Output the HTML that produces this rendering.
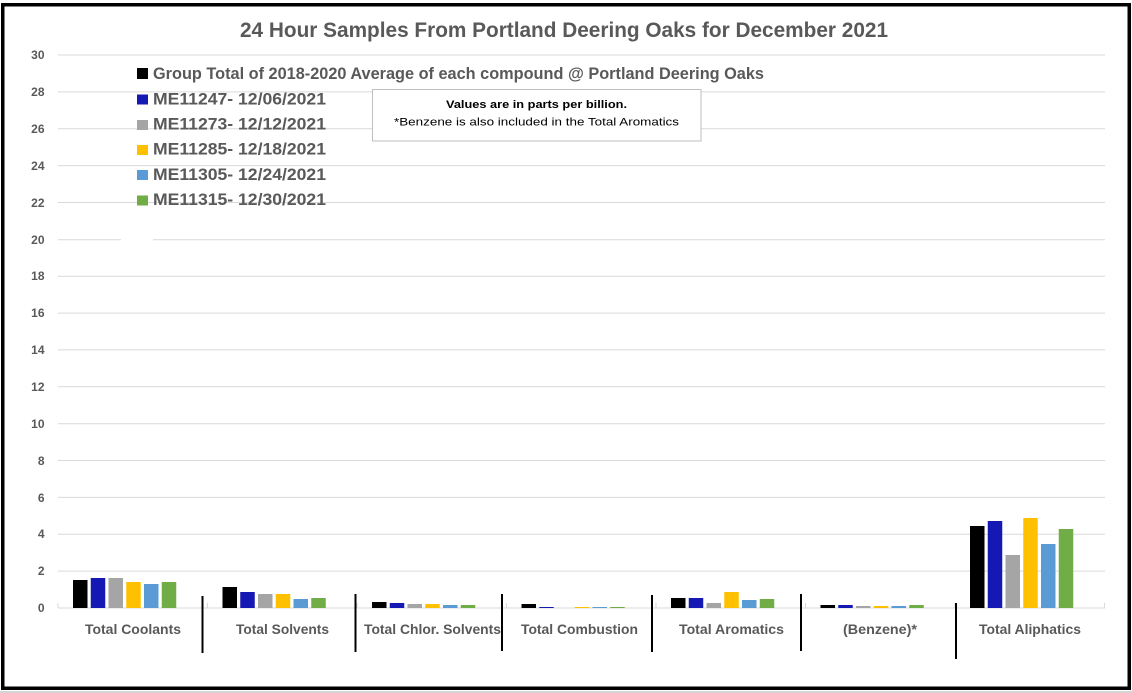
<!DOCTYPE html>
<html>
<head>
<meta charset="utf-8">
<style>
html,body{margin:0;padding:0;background:#fff;}
svg{display:block;}
text{font-family:"Liberation Sans",Arial,sans-serif;}
</style>
</head>
<body>
<svg width="1132" height="693" viewBox="0 0 1132 693" xmlns="http://www.w3.org/2000/svg">
<rect x="0" y="0" width="1132" height="693" fill="#fff"/>
<rect x="0" y="691" width="1132" height="2" fill="#d4d4d4"/>
<!-- gridlines -->
<g stroke="#d9d9d9" stroke-width="1">
<line x1="58" y1="55" x2="1105" y2="55"/>
<line x1="58" y1="91.9" x2="1105" y2="91.9"/>
<line x1="58" y1="128.7" x2="1105" y2="128.7"/>
<line x1="58" y1="165.6" x2="1105" y2="165.6"/>
<line x1="58" y1="202.5" x2="1105" y2="202.5"/>
<line x1="58" y1="239.8" x2="121" y2="239.8"/>
<line x1="153" y1="239.8" x2="1105" y2="239.8"/>
<line x1="58" y1="276.2" x2="1105" y2="276.2"/>
<line x1="58" y1="313.1" x2="1105" y2="313.1"/>
<line x1="58" y1="349.9" x2="1105" y2="349.9"/>
<line x1="58" y1="386.8" x2="1105" y2="386.8"/>
<line x1="58" y1="423.7" x2="1105" y2="423.7"/>
<line x1="58" y1="460.5" x2="1105" y2="460.5"/>
<line x1="58" y1="497.4" x2="1105" y2="497.4"/>
<line x1="58" y1="534.3" x2="1105" y2="534.3"/>
<line x1="58" y1="571.1" x2="1105" y2="571.1"/>
<line x1="58" y1="608" x2="1105" y2="608"/>
<line x1="58" y1="603" x2="58" y2="608"/>
<line x1="207.5" y1="603" x2="207.5" y2="608"/>
<line x1="357" y1="603" x2="357" y2="608"/>
<line x1="506.5" y1="603" x2="506.5" y2="608"/>
<line x1="656" y1="603" x2="656" y2="608"/>
<line x1="805.5" y1="603" x2="805.5" y2="608"/>
<line x1="955" y1="603" x2="955" y2="608"/>
<line x1="1104.5" y1="603" x2="1104.5" y2="608"/>
</g>
<!-- y labels -->
<g font-size="12" font-weight="bold" fill="#595959" text-anchor="end">
<text x="44.5" y="59">30</text>
<text x="44.5" y="96">28</text>
<text x="44.5" y="133">26</text>
<text x="44.5" y="170">24</text>
<text x="44.5" y="207">22</text>
<text x="44.5" y="244">20</text>
<text x="44.5" y="280">18</text>
<text x="44.5" y="317">16</text>
<text x="44.5" y="354">14</text>
<text x="44.5" y="391">12</text>
<text x="44.5" y="428">10</text>
<text x="44.5" y="465">8</text>
<text x="44.5" y="502">6</text>
<text x="44.5" y="538">4</text>
<text x="44.5" y="575">2</text>
<text x="44.5" y="612">0</text>
</g>
<!-- bars -->
<g>
<!-- Coolants start 73 -->
<rect x="73" y="580" width="14.5" height="28" fill="#000"/>
<rect x="90.75" y="578" width="14.5" height="30" fill="#1518b3"/>
<rect x="108.5" y="578" width="14.5" height="30" fill="#a5a5a5"/>
<rect x="126.25" y="582" width="14.5" height="26" fill="#ffc000"/>
<rect x="144" y="584" width="14.5" height="24" fill="#5b9bd5"/>
<rect x="161.75" y="582" width="14.5" height="26" fill="#70ad47"/>
<!-- Solvents start 222.5 -->
<rect x="222.5" y="587" width="14.5" height="21" fill="#000"/>
<rect x="240.25" y="592" width="14.5" height="16" fill="#1518b3"/>
<rect x="258" y="594" width="14.5" height="14" fill="#a5a5a5"/>
<rect x="275.75" y="594" width="14.5" height="14" fill="#ffc000"/>
<rect x="293.5" y="599" width="14.5" height="9" fill="#5b9bd5"/>
<rect x="311.25" y="598" width="14.5" height="10" fill="#70ad47"/>
<!-- Chlor start 372 -->
<rect x="372" y="602" width="14.5" height="6" fill="#000"/>
<rect x="389.75" y="603" width="14.5" height="5" fill="#1518b3"/>
<rect x="407.5" y="604" width="14.5" height="4" fill="#a5a5a5"/>
<rect x="425.25" y="604" width="14.5" height="4" fill="#ffc000"/>
<rect x="443" y="605" width="14.5" height="3" fill="#5b9bd5"/>
<rect x="460.75" y="605" width="14.5" height="3" fill="#70ad47"/>
<!-- Combustion start 521.5 -->
<rect x="521.5" y="604" width="14.5" height="4" fill="#000"/>
<rect x="539.25" y="607" width="14.5" height="1" fill="#1518b3"/>
<rect x="574.75" y="607" width="14.5" height="1" fill="#ffc000"/>
<rect x="592.5" y="607" width="14.5" height="1" fill="#5b9bd5"/>
<rect x="610.25" y="607" width="14.5" height="1" fill="#70ad47"/>
<!-- Aromatics start 671 -->
<rect x="671" y="598" width="14.5" height="10" fill="#000"/>
<rect x="688.75" y="598" width="14.5" height="10" fill="#1518b3"/>
<rect x="706.5" y="603" width="14.5" height="5" fill="#a5a5a5"/>
<rect x="724.25" y="592" width="14.5" height="16" fill="#ffc000"/>
<rect x="742" y="600" width="14.5" height="8" fill="#5b9bd5"/>
<rect x="759.75" y="599" width="14.5" height="9" fill="#70ad47"/>
<!-- Benzene start 820.5 -->
<rect x="820.5" y="605" width="14.5" height="3" fill="#000"/>
<rect x="838.25" y="605" width="14.5" height="3" fill="#1518b3"/>
<rect x="856" y="606" width="14.5" height="2" fill="#a5a5a5"/>
<rect x="873.75" y="606" width="14.5" height="2" fill="#ffc000"/>
<rect x="891.5" y="606" width="14.5" height="2" fill="#5b9bd5"/>
<rect x="909.25" y="605" width="14.5" height="3" fill="#70ad47"/>
<!-- Aliphatics start 970 -->
<rect x="970" y="526" width="14.5" height="82" fill="#000"/>
<rect x="987.75" y="521" width="14.5" height="87" fill="#1518b3"/>
<rect x="1005.5" y="555" width="14.5" height="53" fill="#a5a5a5"/>
<rect x="1023.25" y="518" width="14.5" height="90" fill="#ffc000"/>
<rect x="1041" y="544" width="14.5" height="64" fill="#5b9bd5"/>
<rect x="1058.75" y="529" width="14.5" height="79" fill="#70ad47"/>
</g>
<!-- dividers -->
<g stroke="#000" stroke-width="2">
<line x1="202.5" y1="596" x2="202.5" y2="653"/>
<line x1="355.5" y1="594" x2="355.5" y2="652"/>
<line x1="502" y1="594" x2="502" y2="651"/>
<line x1="652" y1="595" x2="652" y2="652"/>
<line x1="801" y1="594" x2="801" y2="651"/>
<line x1="956" y1="603" x2="956" y2="659"/>
</g>
<!-- category labels -->
<g font-size="14" font-weight="bold" fill="#595959" lengthAdjust="spacingAndGlyphs">
<text x="85" y="634" textLength="96" lengthAdjust="spacingAndGlyphs">Total Coolants</text>
<text x="236" y="634" textLength="93" lengthAdjust="spacingAndGlyphs">Total Solvents</text>
<text x="364" y="634" textLength="137" lengthAdjust="spacingAndGlyphs">Total Chlor. Solvents</text>
<text x="521" y="634" textLength="117" lengthAdjust="spacingAndGlyphs">Total Combustion</text>
<text x="679" y="634" textLength="105" lengthAdjust="spacingAndGlyphs">Total Aromatics</text>
<text x="843" y="634" textLength="74" lengthAdjust="spacingAndGlyphs">(Benzene)*</text>
<text x="979" y="634" textLength="102" lengthAdjust="spacingAndGlyphs">Total Aliphatics</text>
</g>
<!-- title -->
<text x="240" y="37" font-size="21" font-weight="bold" fill="#595959" textLength="648" lengthAdjust="spacingAndGlyphs">24 Hour Samples From Portland Deering Oaks for December 2021</text>
<!-- legend -->
<rect x="137" y="68" width="11" height="11" fill="#000"/>
<rect x="137" y="94.5" width="11" height="10" fill="#1518b3"/>
<rect x="137" y="120" width="11" height="10" fill="#a5a5a5"/>
<rect x="137" y="145" width="11" height="10" fill="#ffc000"/>
<rect x="137" y="170" width="11" height="10" fill="#5b9bd5"/>
<rect x="137" y="195.5" width="11" height="10" fill="#70ad47"/>
<g font-size="17" font-weight="bold" fill="#595959">
<text x="153" y="79" textLength="611" lengthAdjust="spacingAndGlyphs">Group Total of 2018-2020 Average of each compound @ Portland Deering Oaks</text>
<text x="153" y="104.5" textLength="173" lengthAdjust="spacingAndGlyphs">ME11247- 12/06/2021</text>
<text x="153" y="129.5" textLength="173" lengthAdjust="spacingAndGlyphs">ME11273- 12/12/2021</text>
<text x="153" y="154.5" textLength="173" lengthAdjust="spacingAndGlyphs">ME11285- 12/18/2021</text>
<text x="153" y="180" textLength="173" lengthAdjust="spacingAndGlyphs">ME11305- 12/24/2021</text>
<text x="153" y="205" textLength="173" lengthAdjust="spacingAndGlyphs">ME11315- 12/30/2021</text>
</g>
<!-- text box -->
<rect x="372.5" y="89.5" width="328.5" height="51.5" fill="#fff" stroke="#bfbfbf" stroke-width="1"/>
<text x="446" y="108" font-size="11" font-weight="bold" fill="#000" textLength="181" lengthAdjust="spacingAndGlyphs">Values are in parts per billion.</text>
<text x="394" y="125.5" font-size="11" fill="#000" textLength="285" lengthAdjust="spacingAndGlyphs">*Benzene is also included in the Total Aromatics</text>
<!-- outer border -->
<rect x="2.75" y="4.75" width="1126.5" height="683.5" fill="none" stroke="#000" stroke-width="3.5"/>
</svg>
</body>
</html>
